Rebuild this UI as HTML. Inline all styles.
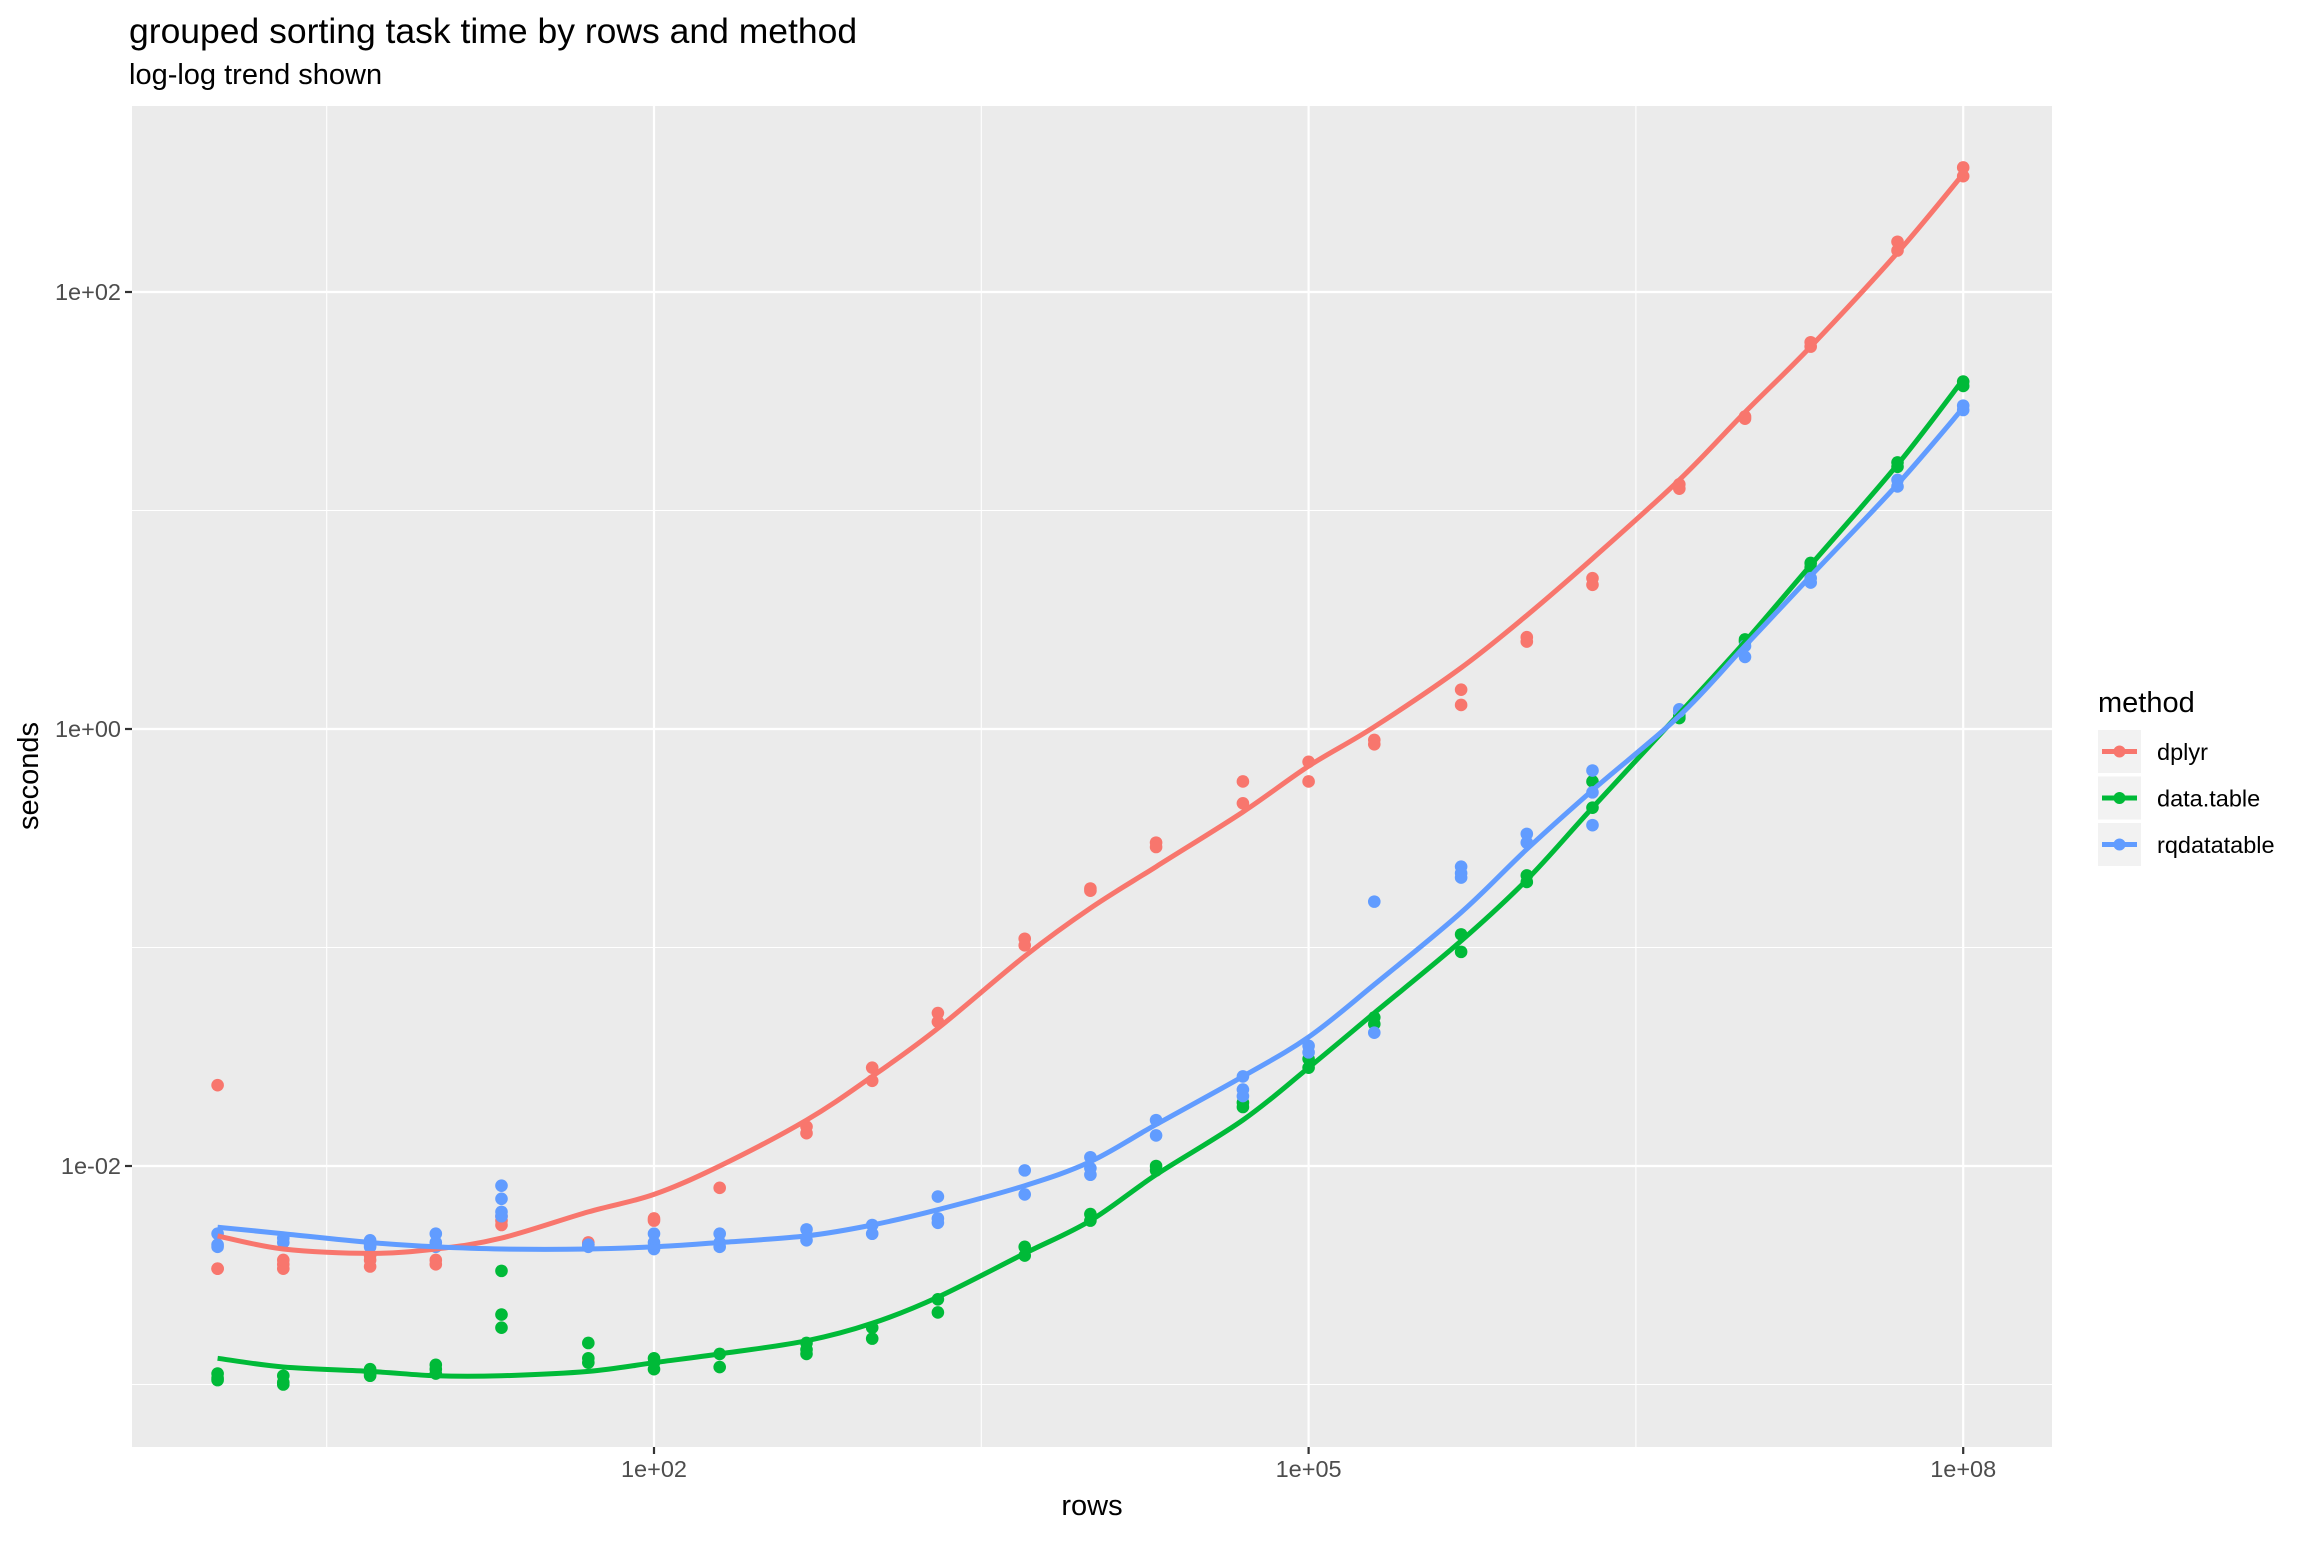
<!DOCTYPE html>
<html><head><meta charset="utf-8"><style>
html,body{margin:0;padding:0;background:#fff;}
svg text{font-family:"Liberation Sans",sans-serif;}
</style></head><body>
<svg id="chart" width="2304" height="1536" xmlns="http://www.w3.org/2000/svg">
<rect x="0" y="0" width="2304" height="1536" fill="#fff"/>
<text x="129" y="43" font-size="35.5" fill="#000">grouped sorting task time by rows and method</text>
<text x="129" y="84" font-size="29" fill="#000">log-log trend shown</text>
<g id="plot"></g>
<text x="1092" y="1515" font-size="29" text-anchor="middle" fill="#000">rows</text>
<text transform="translate(38,776) rotate(-90)" font-size="29" text-anchor="middle" fill="#000">seconds</text>
<g>
<text x="2098" y="712" font-size="29" fill="#000">method</text>
<g id="legendKeys"></g>
</g>
</svg>
<script>
const rows=[1,2,5,10,20,50,100,200,500,1000,2000,5000,1e4,2e4,5e4,1e5,2e5,5e5,1e6,2e6,5e6,1e7,2e7,5e7,1e8];
const methods=["dplyr","data.table","rqdatatable"];
const colors=["#F8766D","#00BA38","#619CFF"];
// log10(seconds) observations per row count
const dplyrPts=[[-1.63,-2.47,-2.47],[-2.45,-2.47,-2.43],[-2.46,-2.43,-2.41],[-2.43,-2.45],[-2.25,-2.27,-2.23],[-2.35,-2.36],[-2.24,-2.25],[-2.10],[-1.82,-1.85],[-1.55,-1.61],[-1.30,-1.34],[-0.96,-0.99],[-0.73,-0.74],[-0.52,-0.54],[-0.24,-0.34],[-0.15,-0.24],[-0.05,-0.07],[0.18,0.11],[0.42,0.40],[0.69,0.66],[1.12,1.10],[1.43,1.42],[1.77,1.75],[2.23,2.19],[2.57,2.53]];
const dtPts=[[-2.95,-2.97,-2.98],[-2.96,-2.99,-3.00],[-2.93,-2.95,-2.96],[-2.91,-2.93,-2.95],[-2.48,-2.68,-2.74],[-2.81,-2.88,-2.90],[-2.88,-2.90,-2.93],[-2.86,-2.92],[-2.81,-2.84,-2.86],[-2.74,-2.79],[-2.61,-2.67],[-2.37,-2.41],[-2.22,-2.25],[-2.00,-2.02],[-1.71,-1.73],[-1.51,-1.55],[-1.32,-1.35],[-0.94,-1.02],[-0.67,-0.70],[-0.24,-0.36],[0.06,0.05],[0.41,0.40],[0.76,0.74],[1.22,1.20],[1.59,1.57]];
const rqPts=[[-2.31,-2.36,-2.37],[-2.33,-2.35],[-2.34,-2.36,-2.37],[-2.31,-2.35,-2.37],[-2.09,-2.15,-2.21,-2.23],[-2.36,-2.37],[-2.31,-2.35,-2.38],[-2.31,-2.35,-2.37],[-2.29,-2.34],[-2.27,-2.31],[-2.14,-2.24,-2.26],[-2.02,-2.13],[-1.96,-2.01,-2.04],[-1.79,-1.86],[-1.59,-1.65,-1.68],[-1.45,-1.48],[-0.79,-1.39],[-0.63,-0.66,-0.68],[-0.48,-0.52],[-0.19,-0.29,-0.44],[0.09,0.08],[0.38,0.33],[0.69,0.67],[1.14,1.11],[1.48,1.46]];
// fitted trend, log10(seconds)
const dplyrFit=[-2.32,-2.38,-2.40,-2.38,-2.33,-2.21,-2.13,-2.00,-1.79,-1.59,-1.37,-1.04,-0.82,-0.63,-0.38,-0.17,0.01,0.28,0.52,0.78,1.14,1.45,1.75,2.18,2.54];
const dtFit=[-2.88,-2.92,-2.94,-2.96,-2.96,-2.94,-2.90,-2.86,-2.80,-2.72,-2.60,-2.40,-2.25,-2.04,-1.79,-1.55,-1.30,-0.97,-0.69,-0.36,0.07,0.40,0.75,1.21,1.60];
const rqFit=[-2.28,-2.31,-2.35,-2.37,-2.38,-2.38,-2.37,-2.35,-2.32,-2.27,-2.20,-2.09,-1.98,-1.81,-1.59,-1.41,-1.17,-0.84,-0.55,-0.28,0.06,0.38,0.70,1.12,1.47];
const xTickLogs=[2,5,8];
const xTickLabels=["1e+02","1e+05","1e+08"];
const yTickLogs=[-2,0,2];
const yTickLabels=["1e-02","1e+00","1e+02"];
const xMinorLogs=[-1,0.5,3.5,6.5];
const yMinorLogs=[-3,-1,1];

const NS="http://www.w3.org/2000/svg";
const P={l:132,r:2052,t:106,b:1447};
const xs=l=>654+(l-2)*218.2;
const ys=l=>729-l*218.5;
const plot=document.getElementById('plot');
function mk(tag,attrs,parent){const e=document.createElementNS(NS,tag);for(const k in attrs)e.setAttribute(k,attrs[k]);(parent||plot).appendChild(e);return e;}

const bg=mk('rect',{x:P.l,y:P.t,width:P.r-P.l,height:P.b-P.t,fill:'#EBEBEB'});


xMinorLogs.forEach(l=>{const x=xs(l);if(x>P.l&&x<P.r){const g=mk('line',{x1:x,x2:x,y1:P.t,y2:P.b,stroke:'#fff','stroke-width':1.1});

}});
yMinorLogs.forEach(l=>{const y=ys(l);const g=mk('line',{x1:P.l,x2:P.r,y1:y,y2:y,stroke:'#fff','stroke-width':1.1});

});
xTickLogs.forEach((l,i)=>{const x=xs(l);
const g=mk('line',{x1:x,x2:x,y1:P.t,y2:P.b,stroke:'#fff','stroke-width':2.2});


const t=mk('line',{x1:x,x2:x,y1:P.b,y2:P.b+7,stroke:'#333','stroke-width':2.2});


const tx=mk('text',{x:x,y:P.b+30,'font-size':23.5,'text-anchor':'middle',fill:'#4D4D4D'});tx.textContent=xTickLabels[i];

});
yTickLogs.forEach((l,i)=>{const y=ys(l);
const g=mk('line',{x1:P.l,x2:P.r,y1:y,y2:y,stroke:'#fff','stroke-width':2.2});


const t=mk('line',{x1:P.l-7,x2:P.l,y1:y,y2:y,stroke:'#333','stroke-width':2.2});


const tx=mk('text',{x:P.l-11,y:y+8,'font-size':23.5,'text-anchor':'end',fill:'#4D4D4D'});tx.textContent=yTickLabels[i];

});

const ptsAll=[dplyrPts,dtPts,rqPts];
const fitAll=[dplyrFit,dtFit,rqFit];
ptsAll.forEach((set,m)=>{set.forEach((vals,i)=>{vals.forEach(v=>{
const c=mk('circle',{cx:xs(Math.log10(rows[i])),cy:ys(v),r:6.3,fill:colors[m]});

});});});
function smoothPath(pts){let d='M'+pts[0][0].toFixed(1)+','+pts[0][1].toFixed(1);
for(let i=0;i<pts.length-1;i++){const p0=pts[Math.max(0,i-1)],p1=pts[i],p2=pts[i+1],p3=pts[Math.min(pts.length-1,i+2)];
const c1=[p1[0]+(p2[0]-p0[0])/6,p1[1]+(p2[1]-p0[1])/6],c2=[p2[0]-(p3[0]-p1[0])/6,p2[1]-(p3[1]-p1[1])/6];
d+=' C'+c1[0].toFixed(1)+','+c1[1].toFixed(1)+' '+c2[0].toFixed(1)+','+c2[1].toFixed(1)+' '+p2[0].toFixed(1)+','+p2[1].toFixed(1);}
return d;}
fitAll.forEach((fit,m)=>{
const pts=fit.map((v,i)=>[xs(Math.log10(rows[i])),ys(v)]);
const p=mk('path',{d:smoothPath(pts),fill:'none',stroke:colors[m],'stroke-width':5,'stroke-linejoin':'round'});

});

const lg=document.getElementById('legendKeys');
methods.forEach((name,i)=>{const y0=730+i*46.5;
const k=mk('rect',{x:2098,y:y0,width:43,height:43,fill:'#F2F2F2'},lg);


mk('line',{x1:2102,x2:2137,y1:y0+21.5,y2:y0+21.5,stroke:colors[i],'stroke-width':5},lg);
mk('circle',{cx:2119.5,cy:y0+21.5,r:6,fill:colors[i]},lg);
const t=mk('text',{x:2157,y:y0+30,'font-size':23.5,fill:'#000'},lg);t.textContent=name;

});
</script>
</body></html>
